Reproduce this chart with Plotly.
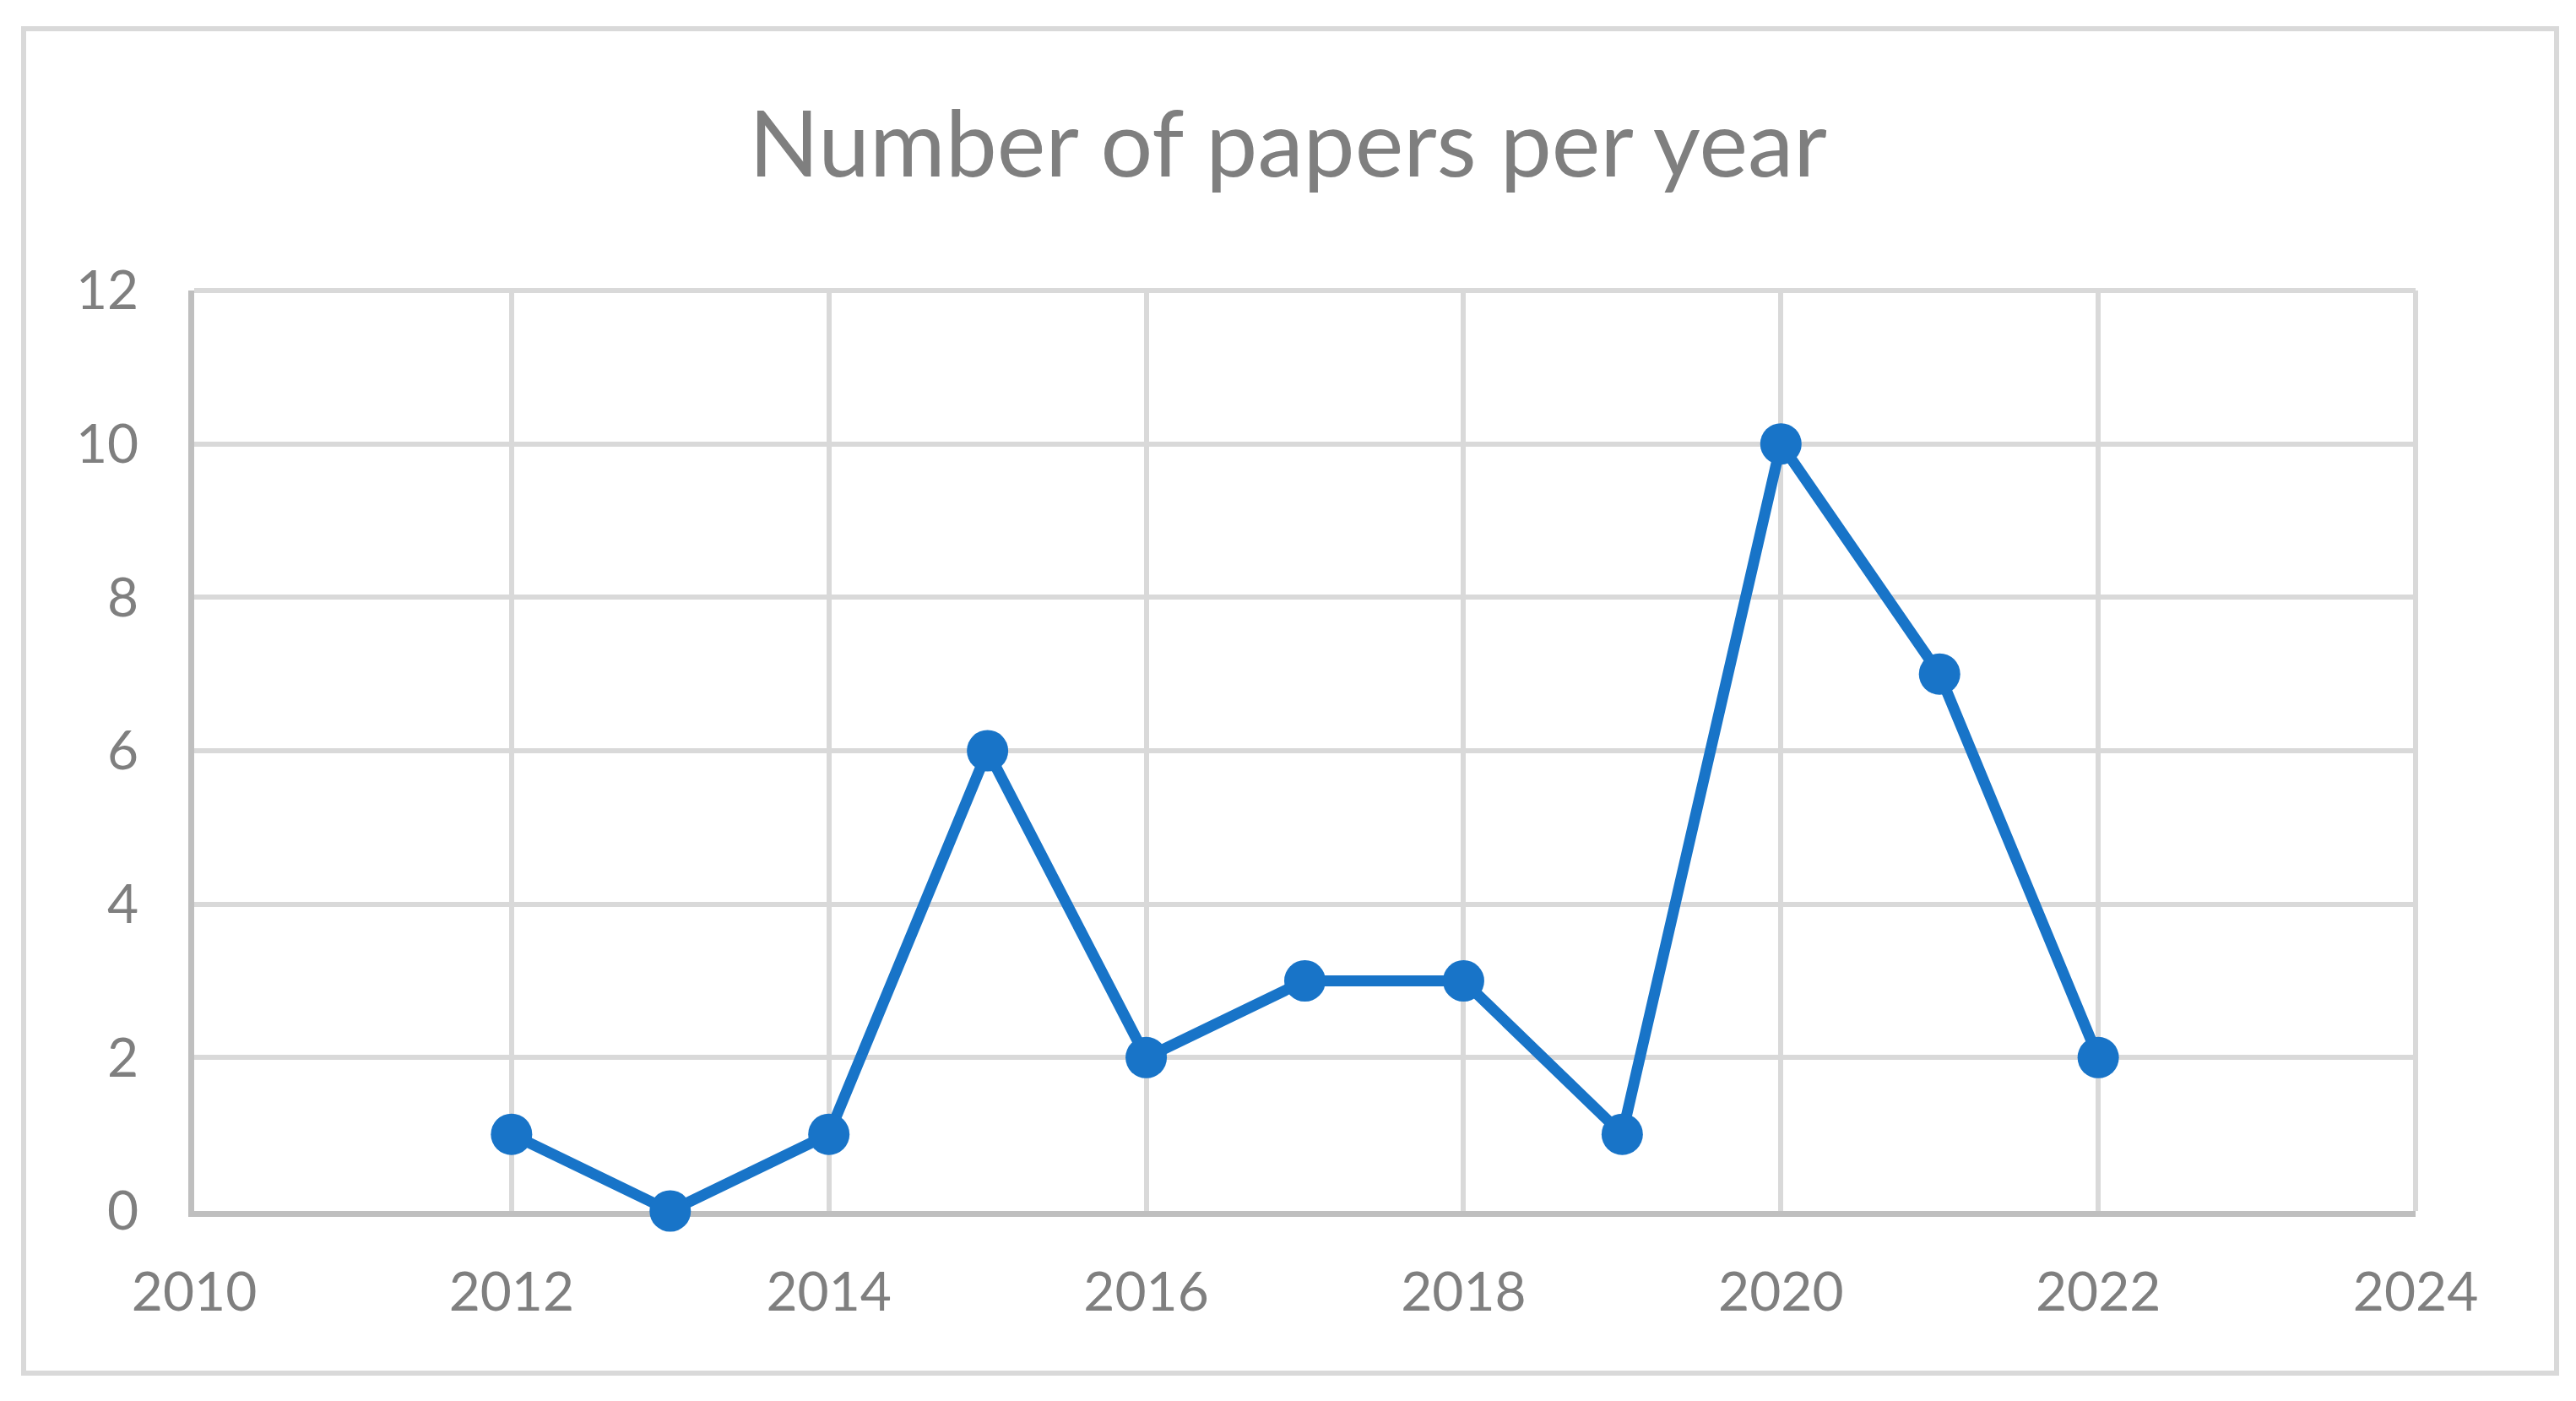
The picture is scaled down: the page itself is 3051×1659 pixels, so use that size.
import plotly.graph_objects as go

years = [2012, 2013, 2014, 2015, 2016, 2017, 2018, 2019, 2020, 2021, 2022]
papers = [1, 0, 1, 6, 2, 3, 3, 1, 10, 7, 2]
title_text = "Number of papers per year"

W, H = 3035, 1643
L, R, T, B = 222, 182, 336, 217
pw, ph = W - L - R, H - T - B

def px_x(fx):
    return (fx - L) / pw

def px_y(fy):
    return (H - B - fy) / ph

text_color = "#7F7F7F"
font_family = "Lato, 'Open Sans', sans-serif"
grid_color = "#D9D9D9"

fig = go.Figure()
fig.add_trace(go.Scatter(
    x=years, y=papers, mode="lines+markers",
    line=dict(color="#1874C8", width=13),
    marker=dict(color="#1874C8", size=49),
    showlegend=False, hoverinfo="skip", cliponaxis=False,
))

fig.update_layout(
    width=W, height=H,
    margin=dict(l=L, r=R, t=T, b=B, pad=0),
    paper_bgcolor="white", plot_bgcolor="white",
    title=dict(text=title_text, x=0.5, xref="container", xanchor="center",
               y=1 - 163 / H, yref="container", yanchor="middle",
               font=dict(family=font_family, size=109, color=text_color)),
    font=dict(family=font_family, color=text_color),
    shapes=[
        dict(type="rect", xref="paper", yref="paper",
             x0=px_x(20), x1=px_x(3020), y0=px_y(1618), y1=px_y(26),
             line=dict(color=grid_color, width=6), fillcolor="rgba(0,0,0,0)",
             layer="below"),
        dict(type="line", xref="paper", yref="paper", x0=0, x1=1, y0=1, y1=1,
             line=dict(color=grid_color, width=6), layer="below"),
        dict(type="line", xref="paper", yref="paper", x0=1, x1=1, y0=0, y1=1,
             line=dict(color=grid_color, width=6), layer="below"),
    ],
)
fig.update_xaxes(range=[2010, 2024], tick0=2010, dtick=2, showgrid=True,
                 gridcolor=grid_color, gridwidth=6, showline=True, linecolor="#BFBFBF",
                 linewidth=7, ticks="", zeroline=False, ticklabelstandoff=34,
                 layer="below traces",
                 tickfont=dict(size=64, color=text_color, family=font_family))
fig.update_yaxes(range=[0, 12], tick0=0, dtick=2, showgrid=True,
                 gridcolor=grid_color, gridwidth=6, showline=True, linecolor="#BFBFBF",
                 linewidth=7, ticks="", zeroline=False, ticklabelstandoff=46,
                 layer="below traces",
                 tickfont=dict(size=64, color=text_color, family=font_family))

fig.write_html("out.html")
